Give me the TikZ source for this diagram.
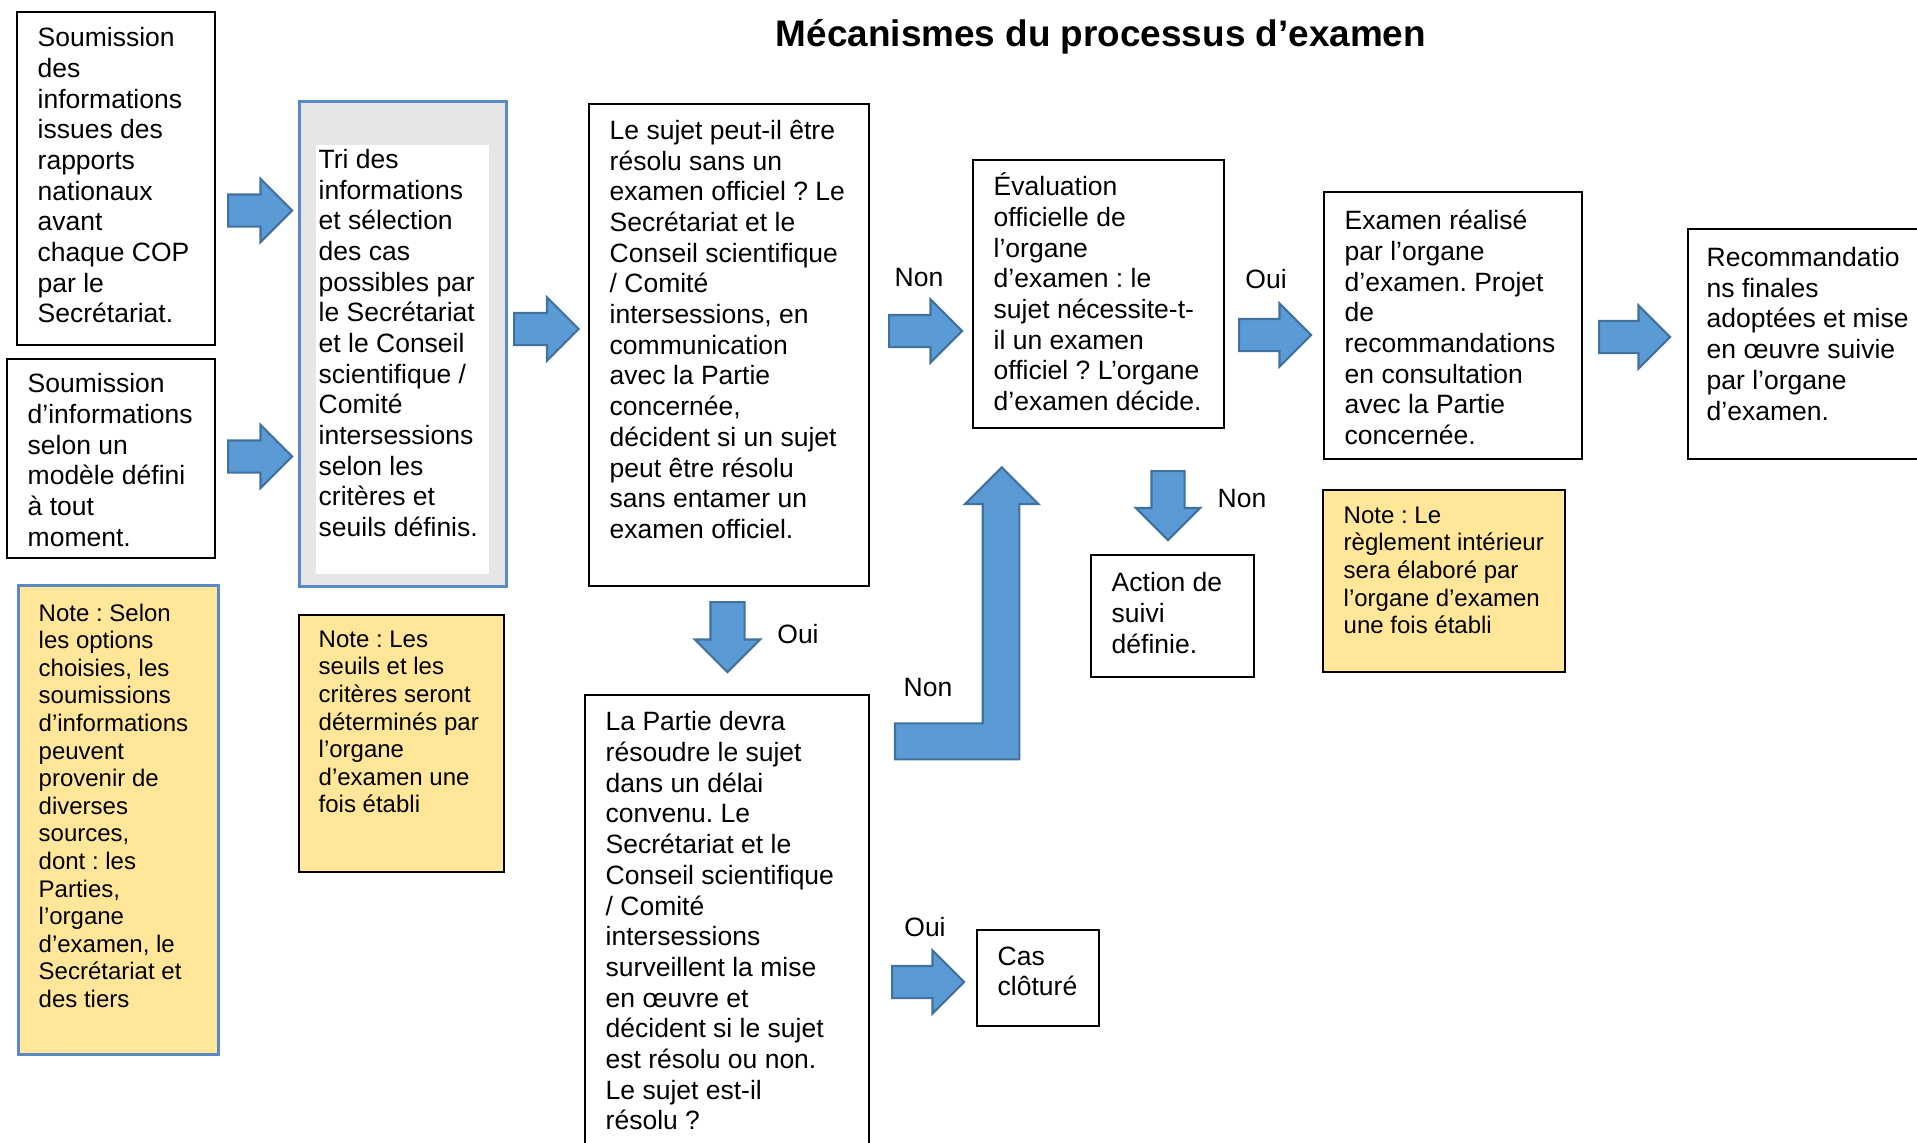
\documentclass[tikz,border=0pt]{standalone}
\usepackage{fontspec}
\setmainfont{Liberation Sans}
\usepackage{tikz}
\usetikzlibrary{shapes.arrows}
\definecolor{arrowblue}{HTML}{5B9BD5}
\definecolor{arrowline}{HTML}{41719C}
\definecolor{noteyellow}{HTML}{FFE699}
\definecolor{framegray}{HTML}{E6E6E6}
\definecolor{frameblue}{HTML}{5A8AC6}
\pgfkeys{tikz/box/.style={draw=black, line width=0.55pt, fill=white,
                              inner sep=0pt, anchor=north west}}
\pgfkeys{tikz/notebox/.style={box, fill=noteyellow}}
\pgfkeys{tikz/txt/.style={anchor=north west, inner sep=0pt, align=left,
                              font=\fontsize{7.54}{8.73}\selectfont}}
\pgfkeys{tikz/notetxt/.style={txt, font=\fontsize{6.83}{7.85}\selectfont}}
\pgfkeys{tikz/yesno/.style={inner sep=0pt, font=\fontsize{7.54}{8.73}\selectfont}}
\pgfkeys{tikz/harrow/.style={single arrow, draw=arrowline, fill=arrowblue,
                                 line width=0.6pt, inner xsep=0pt, inner ysep=0.15cm,
                                 minimum height=0.72cm, anchor=tail,
                                 single arrow head extend=0.155cm}}
\pgfkeys{tikz/varrow/.style={harrow, rotate=-90}}

\begin{document}
\frenchspacing
\begin{tikzpicture}
            \useasboundingbox (0,0) rectangle (19.17,-11.42);

            \node (title) at (11.01,-0.467) [anchor=base, inner sep=0pt,
                font=\fontsize{10.5}{12}\selectfont\bfseries] {Mécanismes du processus d’examen};

            % soumissions
            \node (sub1) at (0.16,-0.11) [box, minimum width=1.98cm, minimum height=3.33cm] {};
            \node (sub1t) at (0.37,-0.268) [txt] {Soumission\\des\\informations\\issues des\\rapports\\nationaux\\avant\\chaque COP\\par le\\Secrétariat.};
            \node (sub2) at (0.06,-3.58) [box, minimum width=2.08cm, minimum height=1.99cm] {};
            \node (sub2t) at (0.27,-3.73) [txt] {Soumission\\d’informations\\selon un\\modèle défini\\à tout\\moment.};
            \node (note1) at (0.17,-5.84) [notebox, draw=frameblue, line width=0.8pt, minimum width=2.00cm, minimum height=4.69cm] {};
            \node (note1t) at (0.38,-6.03) [notetxt] {Note : Selon\\les options\\choisies, les\\soumissions\\d’informations\\peuvent\\provenir de\\diverses\\sources,\\dont : les\\Parties,\\l’organe\\d’examen, le\\Secrétariat et\\des tiers};

            \node (a1) at (2.27,-2.105) [harrow, minimum height=0.64cm] {};
            \node (a2) at (2.27,-4.565) [harrow, minimum height=0.64cm] {};

            % tri
            \node (tri) at (2.98,-1.00) [box, draw=frameblue, fill=framegray, line width=0.8pt, minimum width=2.07cm, minimum height=4.85cm] {};
            \node (trin) at (3.15,-1.44) [box, draw=none, minimum width=1.73cm, minimum height=4.29cm] {};
            \node (trit) at (3.18,-1.485) [txt] {Tri des\\informations\\et sélection\\des cas\\possibles par\\le Secrétariat\\et le Conseil\\scientifique /\\Comité\\intersessions\\selon les\\critères et\\seuils définis.};
            \node (note2) at (2.98,-6.14) [notebox, minimum width=2.05cm, minimum height=2.57cm] {};
            \node (note2t) at (3.18,-6.30) [notetxt] {Note : Les\\seuils et les\\critères seront\\déterminés par\\l’organe\\d’examen une\\fois établi};

            \node (a3) at (5.13,-3.29) [harrow, minimum height=0.645cm] {};

            % question
            \node (q1) at (5.88,-1.03) [box, minimum width=2.80cm, minimum height=4.82cm] {};
            \node (q1t) at (6.09,-1.195) [txt] {Le sujet peut-il être\\résolu sans un\\examen officiel ? Le\\Secrétariat et le\\Conseil scientifique\\/ Comité\\intersessions, en\\communication\\avec la Partie\\concernée,\\décident si un sujet\\peut être résolu\\sans entamer un\\examen officiel.};

            \node (d1) at (7.275,-6.01) [varrow, minimum height=0.70cm, inner ysep=0.16cm] {};
            \node (oui1) at (7.98,-6.34) [yesno] {Oui};

            \node (partie) at (5.84,-6.94) [box, minimum width=2.84cm, minimum height=4.70cm] {};
            \node (partiet) at (6.05,-7.11) [txt] {La Partie devra\\résoudre le sujet\\dans un délai\\convenu. Le\\Secrétariat et le\\Conseil scientifique\\/ Comité\\intersessions\\surveillent la mise\\en œuvre et\\décident si le sujet\\est résolu ou non.\\Le sujet est-il\\résolu ?};

            \node (a4) at (8.88,-3.31) [harrow, minimum height=0.73cm] {};
            \node (non1) at (9.19,-2.77) [yesno] {Non};

            % retour vers l'evaluation
            \draw[draw=arrowline, fill=arrowblue, line width=0.6pt]
                (8.95,-7.593) -- (10.193,-7.593) -- (10.193,-5.04) -- (10.383,-5.04)
                -- (10.017,-4.673) -- (9.65,-5.04) -- (9.827,-5.04) -- (9.827,-7.233)
                -- (8.95,-7.233) -- cycle;
            \node (non2) at (9.28,-6.87) [yesno] {Non};

            \node (a7) at (8.91,-9.82) [harrow] {};
            \node (oui2) at (9.25,-9.27) [yesno] {Oui};
            \node (cas) at (9.76,-9.29) [box, minimum width=1.22cm, minimum height=0.96cm] {};
            \node (cast) at (9.97,-9.46) [txt] {Cas\\clôturé};

            % evaluation
            \node (eval) at (9.72,-1.59) [box, minimum width=2.51cm, minimum height=2.68cm] {};
            \node (evalt) at (9.93,-1.72) [txt] {Évaluation\\officielle de\\l’organe\\d’examen : le\\sujet nécessite-t-\\il un examen\\officiel ? L’organe\\d’examen décide.};

            \node (d2) at (11.68,-4.70) [varrow, minimum height=0.69cm, inner ysep=0.155cm] {};
            \node (non3) at (12.42,-4.98) [yesno] {Non};
            \node (action) at (10.90,-5.54) [box, minimum width=1.63cm, minimum height=1.22cm] {};
            \node (actiont) at (11.11,-5.72) [txt] {Action de\\suivi\\définie.};

            \node (a5) at (12.38,-3.35) [harrow] {};
            \node (oui3) at (12.66,-2.79) [yesno] {Oui};

            % examen
            \node (examen) at (13.23,-1.91) [box, minimum width=2.58cm, minimum height=2.67cm] {};
            \node (exament) at (13.44,-2.096) [txt] {Examen réalisé\\par l’organe\\d’examen. Projet\\de\\recommandations\\en consultation\\avec la Partie\\concernée.};
            \node (note3) at (13.22,-4.89) [notebox, minimum width=2.42cm, minimum height=1.82cm] {};
            \node (note3t) at (13.43,-5.06) [notetxt] {Note : Le\\règlement intérieur\\sera élaboré par\\l’organe d’examen\\une fois établi};

            \node (a6) at (15.98,-3.37) [harrow, minimum height=0.71cm] {};

            \node (reco) at (16.87,-2.28) [box, minimum width=2.60cm, minimum height=2.30cm] {};
            \node (recot) at (17.06,-2.467) [txt] {Recommandatio\\ns finales\\adoptées et mise\\en œuvre suivie\\par l’organe\\d’examen.};
\end{tikzpicture}
\end{document}
